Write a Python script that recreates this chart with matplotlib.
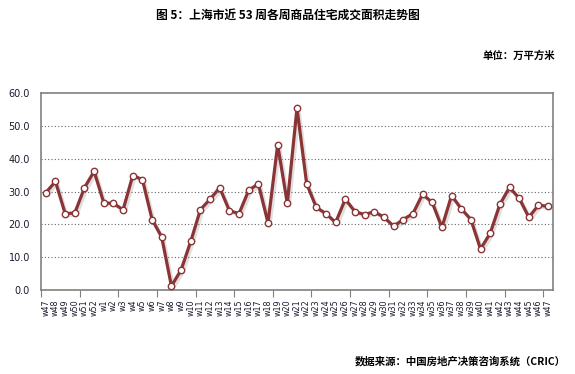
import matplotlib
matplotlib.use("Agg")
import matplotlib.pyplot as plt
import matplotlib.patheffects as pe
import numpy as np

weeks = ["w47", "w48", "w49", "w50", "w51", "w52"] + ["w%d" % i for i in range(1, 48)]
values = [29.7, 33.1, 23.3, 23.5, 31.2, 36.2, 26.6, 26.4, 24.5, 34.9,
          33.7, 21.5, 16.1, 1.2, 6.1, 14.8, 24.5, 27.7, 31.2, 24.2,
          23.3, 30.4, 32.4, 20.5, 44.3, 26.4, 55.5, 32.4, 25.2, 23.3,
          20.6, 27.7, 23.9, 23.0, 23.9, 22.2, 19.5, 21.5, 23.3, 29.2,
          26.7, 19.1, 28.8, 24.8, 21.5, 12.5, 17.3, 26.1, 31.3, 28.0,
          22.2, 25.9, 25.5]
yticks = [0, 10, 20, 30, 40, 50, 60]

title = "图 5：上海市近 53 周各周商品住宅成交面积走势图"
unit = "单位：万平方米"
source = "数据来源：中国房地产决策咨询系统（CRIC）"

cjk = ["Noto Sans CJK SC", "DejaVu Sans"]

fig = plt.figure(figsize=(5.75, 3.74), dpi=100)
ax = fig.add_axes([0.0713, 0.2246, 0.8904, 0.5259])

x = np.arange(len(values))
line_color = "#8B3436"
ax.plot(x, values, color=line_color, lw=2.3, zorder=3,
        path_effects=[pe.SimpleLineShadow(offset=(1.5, -1.5), shadow_color="gray", alpha=0.25),
                      pe.Normal()])
ax.plot(x, values, ls="none", marker="o", ms=4.6, mfc="white", mec=line_color,
        mew=1.0, zorder=4)

ax.set_xlim(-0.5, len(values) - 0.5)
ax.set_ylim(0, 60)
ax.set_yticks(yticks)
ax.set_yticklabels(["%.1f" % v for v in yticks], fontsize=7, color="#1a1a2e")
ax.tick_params(axis="y", length=0, pad=8)

ax.set_xticks(np.arange(-0.5, len(values), 4))
ax.set_xticklabels([])
ax.tick_params(axis="x", which="major", length=5, color="#808080", direction="out")
ax.set_xticks(x, minor=True)
ax.set_xticklabels(weeks, minor=True, rotation=90, fontsize=5.8, color="#1a1a2e")
ax.tick_params(axis="x", which="minor", length=0, pad=7)

for s in ax.spines.values():
    s.set_color("#808080")
    s.set_linewidth(1.2)

for v in yticks[1:-1]:
    ax.axhline(v, color="#666666", lw=0.8, ls=(0, (1, 2)), zorder=1)

fig.text(0.5, 0.958, title, ha="center", va="center", fontsize=8.5,
         fontweight="bold", family=cjk)
fig.text(0.965, 0.852, unit, ha="right", va="center", fontsize=7.5,
         fontweight="bold", family=cjk)
fig.text(0.983, 0.035, source, ha="right", va="center", fontsize=7.5,
         fontweight="bold", family=cjk)

fig.savefig("out.png", dpi=100)
